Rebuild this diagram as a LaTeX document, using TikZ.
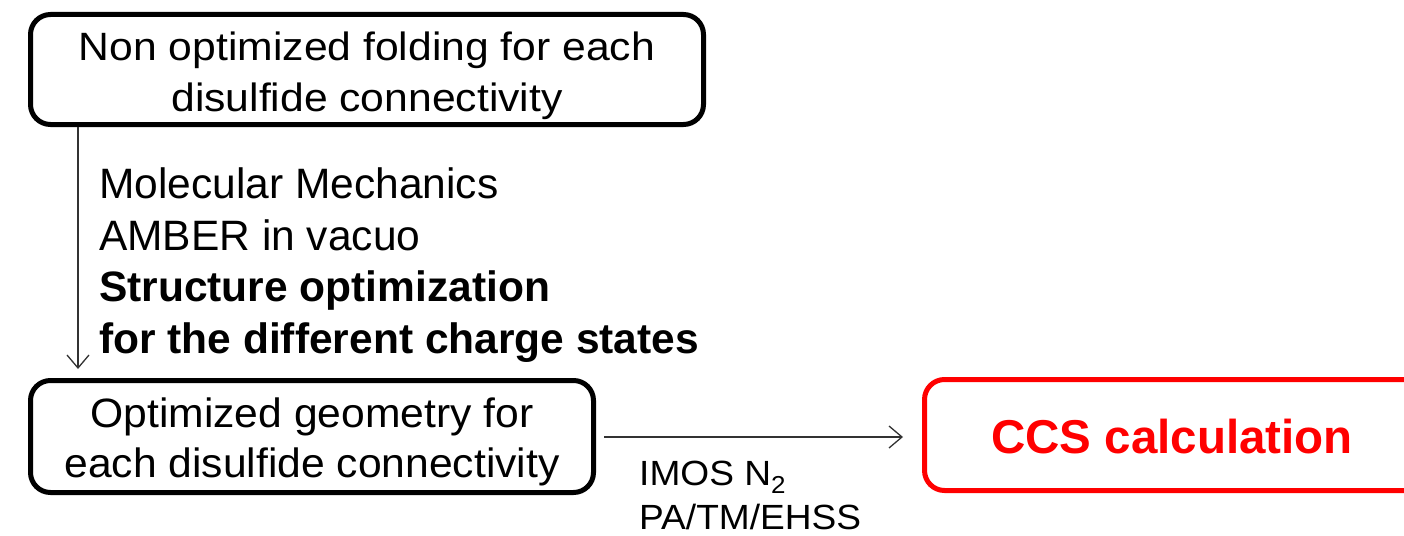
\documentclass[tikz,border=0pt]{standalone}
\usepackage{fontspec}
\setmainfont{Liberation Sans}
\newfontfamily\wideA[FakeStretch=1.08]{Liberation Sans}
\newfontfamily\wideB[FakeStretch=1.04]{Liberation Sans}
\newfontfamily\wideC[FakeStretch=1.06]{Liberation Sans}
\usetikzlibrary{arrows.meta}
\definecolor{ccsred}{RGB}{255,0,0}
\definecolor{arrowgray}{RGB}{50,50,50}
\tikzset{
  stepbox/.style={draw=black, line width=5pt, rounded corners=20pt, inner sep=0pt},
  redbox/.style={draw=ccsred, line width=5pt, rounded corners=20pt, inner sep=0pt},
  boxtext/.style={inner sep=0pt, align=center},
  flow/.style={draw=arrowgray, line width=1.3pt, -{Straight Barb[length=13pt,width=22pt,line width=1.3pt]}},
  note/.style={inner sep=0pt, align=left, anchor=west},
}
\begin{document}
\begin{tikzpicture}[x=1pt,y=-1pt]
\useasboundingbox (0,0) rectangle (1404,535);
\node[stepbox, minimum width=673pt, minimum height=110pt] (top) at (367,69.5) {};
\node[boxtext, font=\wideA\fontsize{39.5}{51}\selectfont] (toptext) at (367,76)
  {Non optimized folding for each\\disulfide connectivity};
\node[stepbox, minimum width=563pt, minimum height=112pt] (opt) at (312,436.5) {};
\node[boxtext, font=\wideB\fontsize{41}{50}\selectfont] (opttext) at (312,442)
  {Optimized geometry for\\each disulfide connectivity};
\node[redbox, minimum width=505pt, minimum height=111pt] (ccsbox) at (1177,435) {};
\node[inner sep=0pt, text=ccsred, font=\fontsize{47.5}{56}\selectfont\bfseries] (ccstext) at (1172,437) {CCS calculation};
\coordinate (vx) at (78,0);
\draw[flow, shorten >=9pt] (top.south -| vx) -- (opt.north -| vx);
\node[note, font=\fontsize{42.5}{51.7}\selectfont] (mm) at (99,265)
  {Molecular Mechanics\\AMBER in vacuo\\\textbf{Structure optimization}\\\textbf{for the different charge states}};
\draw[flow, shorten <=8pt, shorten >=19pt] (opt.east |- 0,437) -- (ccsbox.west |- 0,437);
\node[note, font=\wideC\fontsize{35}{44}\selectfont] (imos) at (639,495)
  {IMOS N\textsubscript{2}\\PA/TM/EHSS};
\end{tikzpicture}
\end{document}
